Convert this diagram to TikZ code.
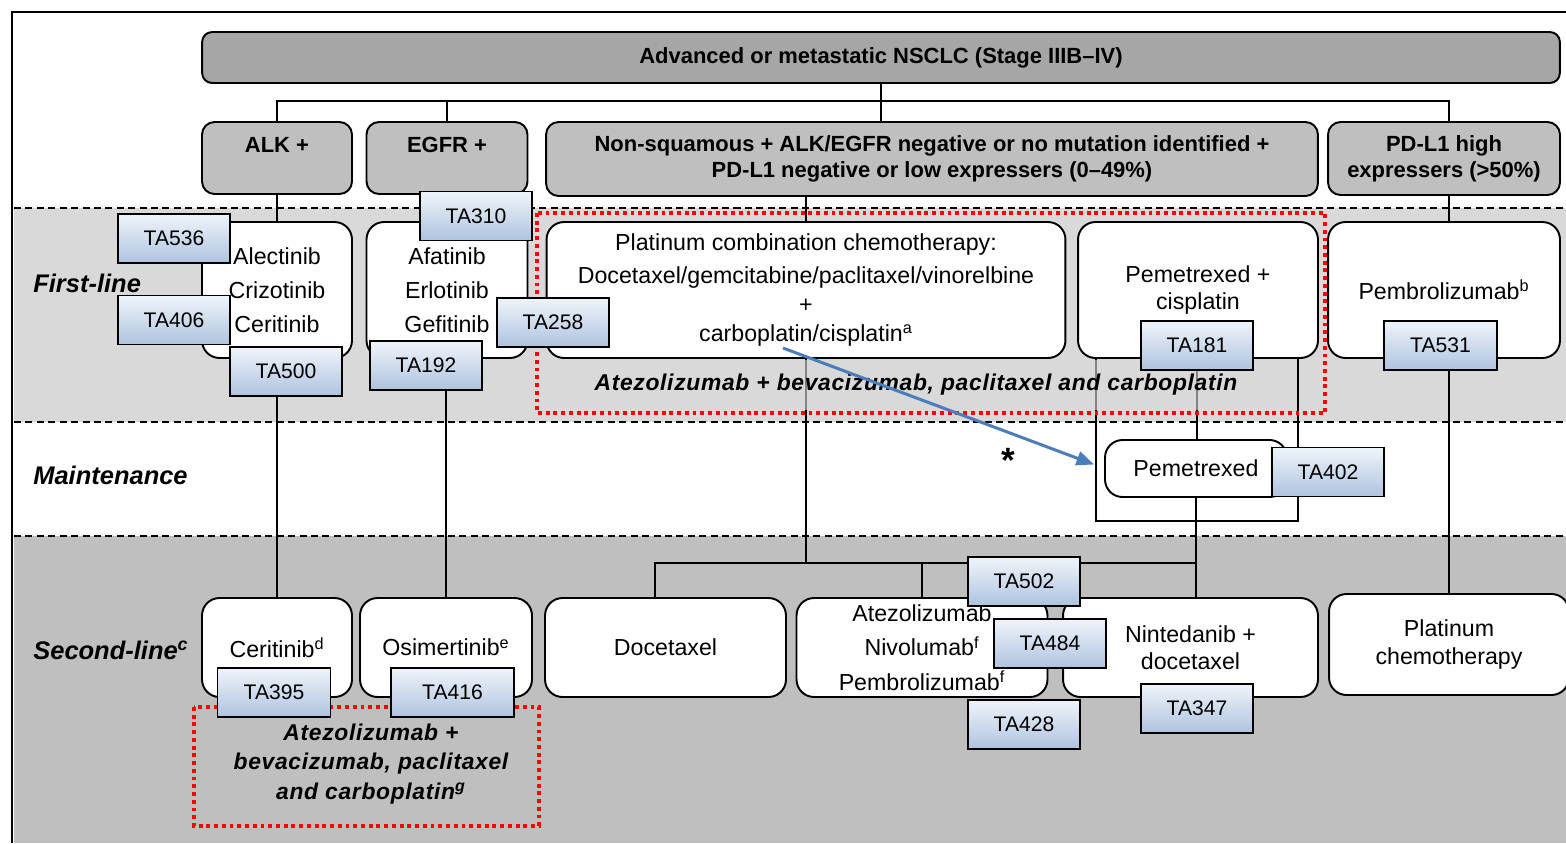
\documentclass[tikz,border=0pt]{standalone}
\usepackage{fontspec}
\setmainfont{Liberation Sans}
\newfontfamily\atzfont[LetterSpace=3.0]{Liberation Sans}
\usepackage{xcolor}
\usepackage{tikz}
\usetikzlibrary{arrows.meta,calc}

\definecolor{bandlight}{HTML}{D9D9D9}
\definecolor{banddark}{HTML}{BFBFBF}
\definecolor{headgray}{HTML}{A6A6A6}
\definecolor{tatop}{HTML}{F0F4FA}
\definecolor{tabottom}{HTML}{AEC3DF}
\definecolor{arrowblue}{HTML}{4A7EBB}
\definecolor{dotred}{HTML}{FF0000}

\pgfdeclarelayer{bands}
\pgfdeclarelayer{lines}
\pgfsetlayers{bands,lines,main}

\begin{document}
\begin{tikzpicture}[x=0.02cm, y=-0.02cm,
	whitebox/.style={draw, line width=1.1pt, rounded corners=0.35cm, fill=white, align=center, inner sep=0pt, font=\fontsize{13.2}{15.5}\selectfont},
	catbox/.style={whitebox, rounded corners=0.25cm, fill=banddark, font=\fontsize{12.5}{14.7}\selectfont\bfseries},
	headbox/.style={catbox, rounded corners=0.2cm, fill=headgray},
	tabox/.style={draw, line width=1.1pt, top color=tatop, bottom color=tabottom, minimum width=2.24cm, minimum height=0.98cm, inner sep=0pt, font=\fontsize{12}{14}\selectfont},
	conn/.style={line width=1.1pt},
	bandline/.style={line width=1pt, dash pattern=on 4pt off 2.5pt},
	redbox/.style={draw=dotred, line width=2.2pt, dash pattern=on 2.2pt off 2.2pt},
	rowlab/.style={anchor=west, inner sep=0pt, font=\fontsize{14.5}{17}\selectfont\bfseries\itshape},
	atztext/.style={align=center, inner sep=0pt, font=\fontsize{13}{16.7}\selectfont\atzfont\bfseries\itshape},
	bluearrow/.style={draw=arrowblue, line width=1.7pt, -{Triangle[length=10pt,width=8pt]}}]

	\useasboundingbox (0,0) rectangle (1566,843);
	\begin{pgfonlayer}{bands}
		\fill[bandlight] (14,208) rectangle (1566,422);
		\fill[banddark] (14,536) rectangle (1566,843);
		\draw[bandline] (14,208) -- (1566,208);
		\draw[bandline] (14,422) -- (1566,422);
		\draw[bandline] (14,536) -- (1566,536);
		\draw[line width=1.2pt] (12,843) -- (12,12) -- (1566,12);
	\end{pgfonlayer}

	\node[rowlab] (first) at (33,283) {First-line};
	\node[rowlab] (maint) at (33,475) {Maintenance};
	\node[rowlab] (second) at (33,650) {Second-line\textsuperscript{c}};

	\node[headbox, minimum width=27.16cm, minimum height=1.02cm] (head) at (881,57.5) {Advanced or metastatic NSCLC (Stage IIIB--IV)};

	\node[catbox, minimum width=3cm, minimum height=1.44cm] (alk) at (277,158) {ALK +\\\mbox{}};
	\node[catbox, minimum width=3.22cm, minimum height=1.44cm] (egfr) at (447,158) {EGFR +\\\mbox{}};
	\node[catbox, minimum width=15.44cm, minimum height=1.48cm] (nonsq) at (932,159) {Non-squamous + ALK/EGFR negative or no mutation identified +\\PD-L1 negative or low expressers (0--49\%)};
	\node[catbox, minimum width=4.64cm, minimum height=1.46cm] (pdl1) at (1444,158.5) {PD-L1 high\\expressers (>50\%)};

	\node[whitebox, minimum width=3cm, minimum height=2.72cm] (alk1) at (277,290) {Alectinib\\[4pt]Crizotinib\\[4pt]Ceritinib};
	\node[whitebox, minimum width=3.22cm, minimum height=2.72cm] (egfr1) at (447,290) {Afatinib\\[4pt]Erlotinib\\[4pt]Gefitinib};
	\node[whitebox, minimum width=10.38cm, minimum height=2.72cm] (plat) at (806,290) {Platinum combination chemotherapy:\\[3pt]Docetaxel/gemcitabine/paclitaxel/vinorelbine\\[1pt]+\\[1pt]carboplatin/cisplatin\textsuperscript{a}};
	\node[whitebox, minimum width=4.8cm, minimum height=2.72cm] (pemcis) at (1198,290) {Pemetrexed +\\cisplatin};
	\node[whitebox, minimum width=4.64cm, minimum height=2.72cm] (pembro) at (1444,290) {Pembrolizumab\textsuperscript{b}};

	\node[atztext, minimum width=14cm, minimum height=1cm, fill=bandlight, fill opacity=0.6, text opacity=1] (atz1) at (916,385) {Atezolizumab + bevacizumab, paclitaxel and carboplatin};
	\draw[redbox] (537,213) rectangle (1325,413);

	\node[whitebox, minimum width=3.64cm, minimum height=1.14cm] (pem) at (1196,468.5) {Pemetrexed};

	\node[whitebox, minimum width=3cm, minimum height=1.98cm] (alk2) at (277,647.5) {Ceritinib\textsuperscript{d}};
	\node[whitebox, minimum width=3.44cm, minimum height=1.98cm] (osi) at (446,647.5) {Osimertinib\textsuperscript{e}};
	\node[whitebox, minimum width=4.82cm, minimum height=1.98cm] (doce) at (665.5,647.5) {Docetaxel};
	\node[whitebox, minimum width=5.02cm, minimum height=1.98cm] (atezo) at (922,647.5) {Atezolizumab\\[4pt]Nivolumab\textsuperscript{f}\\[4pt]Pembrolizumab\textsuperscript{f}};
	\node[whitebox, minimum width=5.1cm, minimum height=1.98cm] (nint) at (1190.5,647.5) {Nintedanib +\\docetaxel};
	\node[whitebox, minimum width=4.8cm, minimum height=2.02cm] (plat2) at (1449,644.5) {Platinum\\chemotherapy};

	\node[atztext] (atz2) at (371,764) {Atezolizumab +\\bevacizumab, paclitaxel\\and carboplatin\textsuperscript{g}};
	\draw[redbox] (194,707) rectangle (539,826);

	\node[tabox] (ta536) at (174,238.5) {TA536};
	\node[tabox] (ta406) at (174,320) {TA406};
	\node[tabox] (ta500) at (286,371.5) {TA500};
	\node[tabox] (ta310) at (476,216) {TA310};
	\node[tabox] (ta192) at (426,365.5) {TA192};
	\node[tabox] (ta258) at (553,322.5) {TA258};
	\node[tabox] (ta181) at (1197,345.5) {TA181};
	\node[tabox, minimum width=2.26cm] (ta531) at (1440.5,345.5) {TA531};
	\node[tabox] (ta402) at (1328,472) {TA402};
	\node[tabox] (ta502) at (1024,581.5) {TA502};
	\node[tabox] (ta484) at (1050,643.5) {TA484};
	\node[tabox] (ta428) at (1024,724.5) {TA428};
	\node[tabox] (ta347) at (1197,708.5) {TA347};
	\node[tabox, minimum width=2.26cm] (ta395) at (274,692.5) {TA395};
	\node[tabox, minimum width=2.46cm] (ta416) at (452.5,692.5) {TA416};

	\coordinate (bus) at (0,101);
	\coordinate (bus2) at (0,563);
	\coordinate (arrstart) at (783,348);

	\begin{pgfonlayer}{lines}
		\draw[conn] (head.south) -- (head.south |- nonsq.north);
		\draw[conn] (alk.north) |- (bus -| plat2.north) -- (plat2.north |- pdl1.north);
		\draw[conn] (egfr.north) -- (egfr.north |- bus);
		\draw[conn] (alk.south) -- (alk1.north);
		\draw[conn] (egfr.south) -- (egfr1.north);
		\draw[conn] (plat.north |- nonsq.south) -- (plat.north);
		\draw[conn] (plat2.north |- pdl1.south) -- (plat2.north |- pembro.north);
		\draw[conn] ($(pemcis.south west)+(19,0)$) |- ($(pem.south)+(0,23)$) -| ($(pemcis.south east)+(-21,0)$);
		\draw[conn] (ta181.south) -- (ta181.south |- pem.north);
		\draw[conn] (alk2.north |- ta500.south) -- (alk2.north);
		\draw[conn] (osi.north |- ta192.south) -- (osi.north);
		\draw[conn] (plat.south) -- (plat.south |- bus2);
		\draw[conn] ([xshift=-6pt]doce.north) |- (bus2 -| pem.south) -- (pem.south);
		\draw[conn] (atezo.north) -- (atezo.north |- bus2);
		\draw[conn] (pem.south |- bus2) -- (pem.south |- nint.north);
		\draw[conn] (plat2.north |- ta531.south) -- (plat2.north);
	\end{pgfonlayer}

	\draw[bluearrow] (arrstart) -- ($(pem.west)+(-10,-4)$);
	\node[font=\fontsize{20}{20}\selectfont\bfseries] (star) at (1008,460) {*};
\end{tikzpicture}
\end{document}
